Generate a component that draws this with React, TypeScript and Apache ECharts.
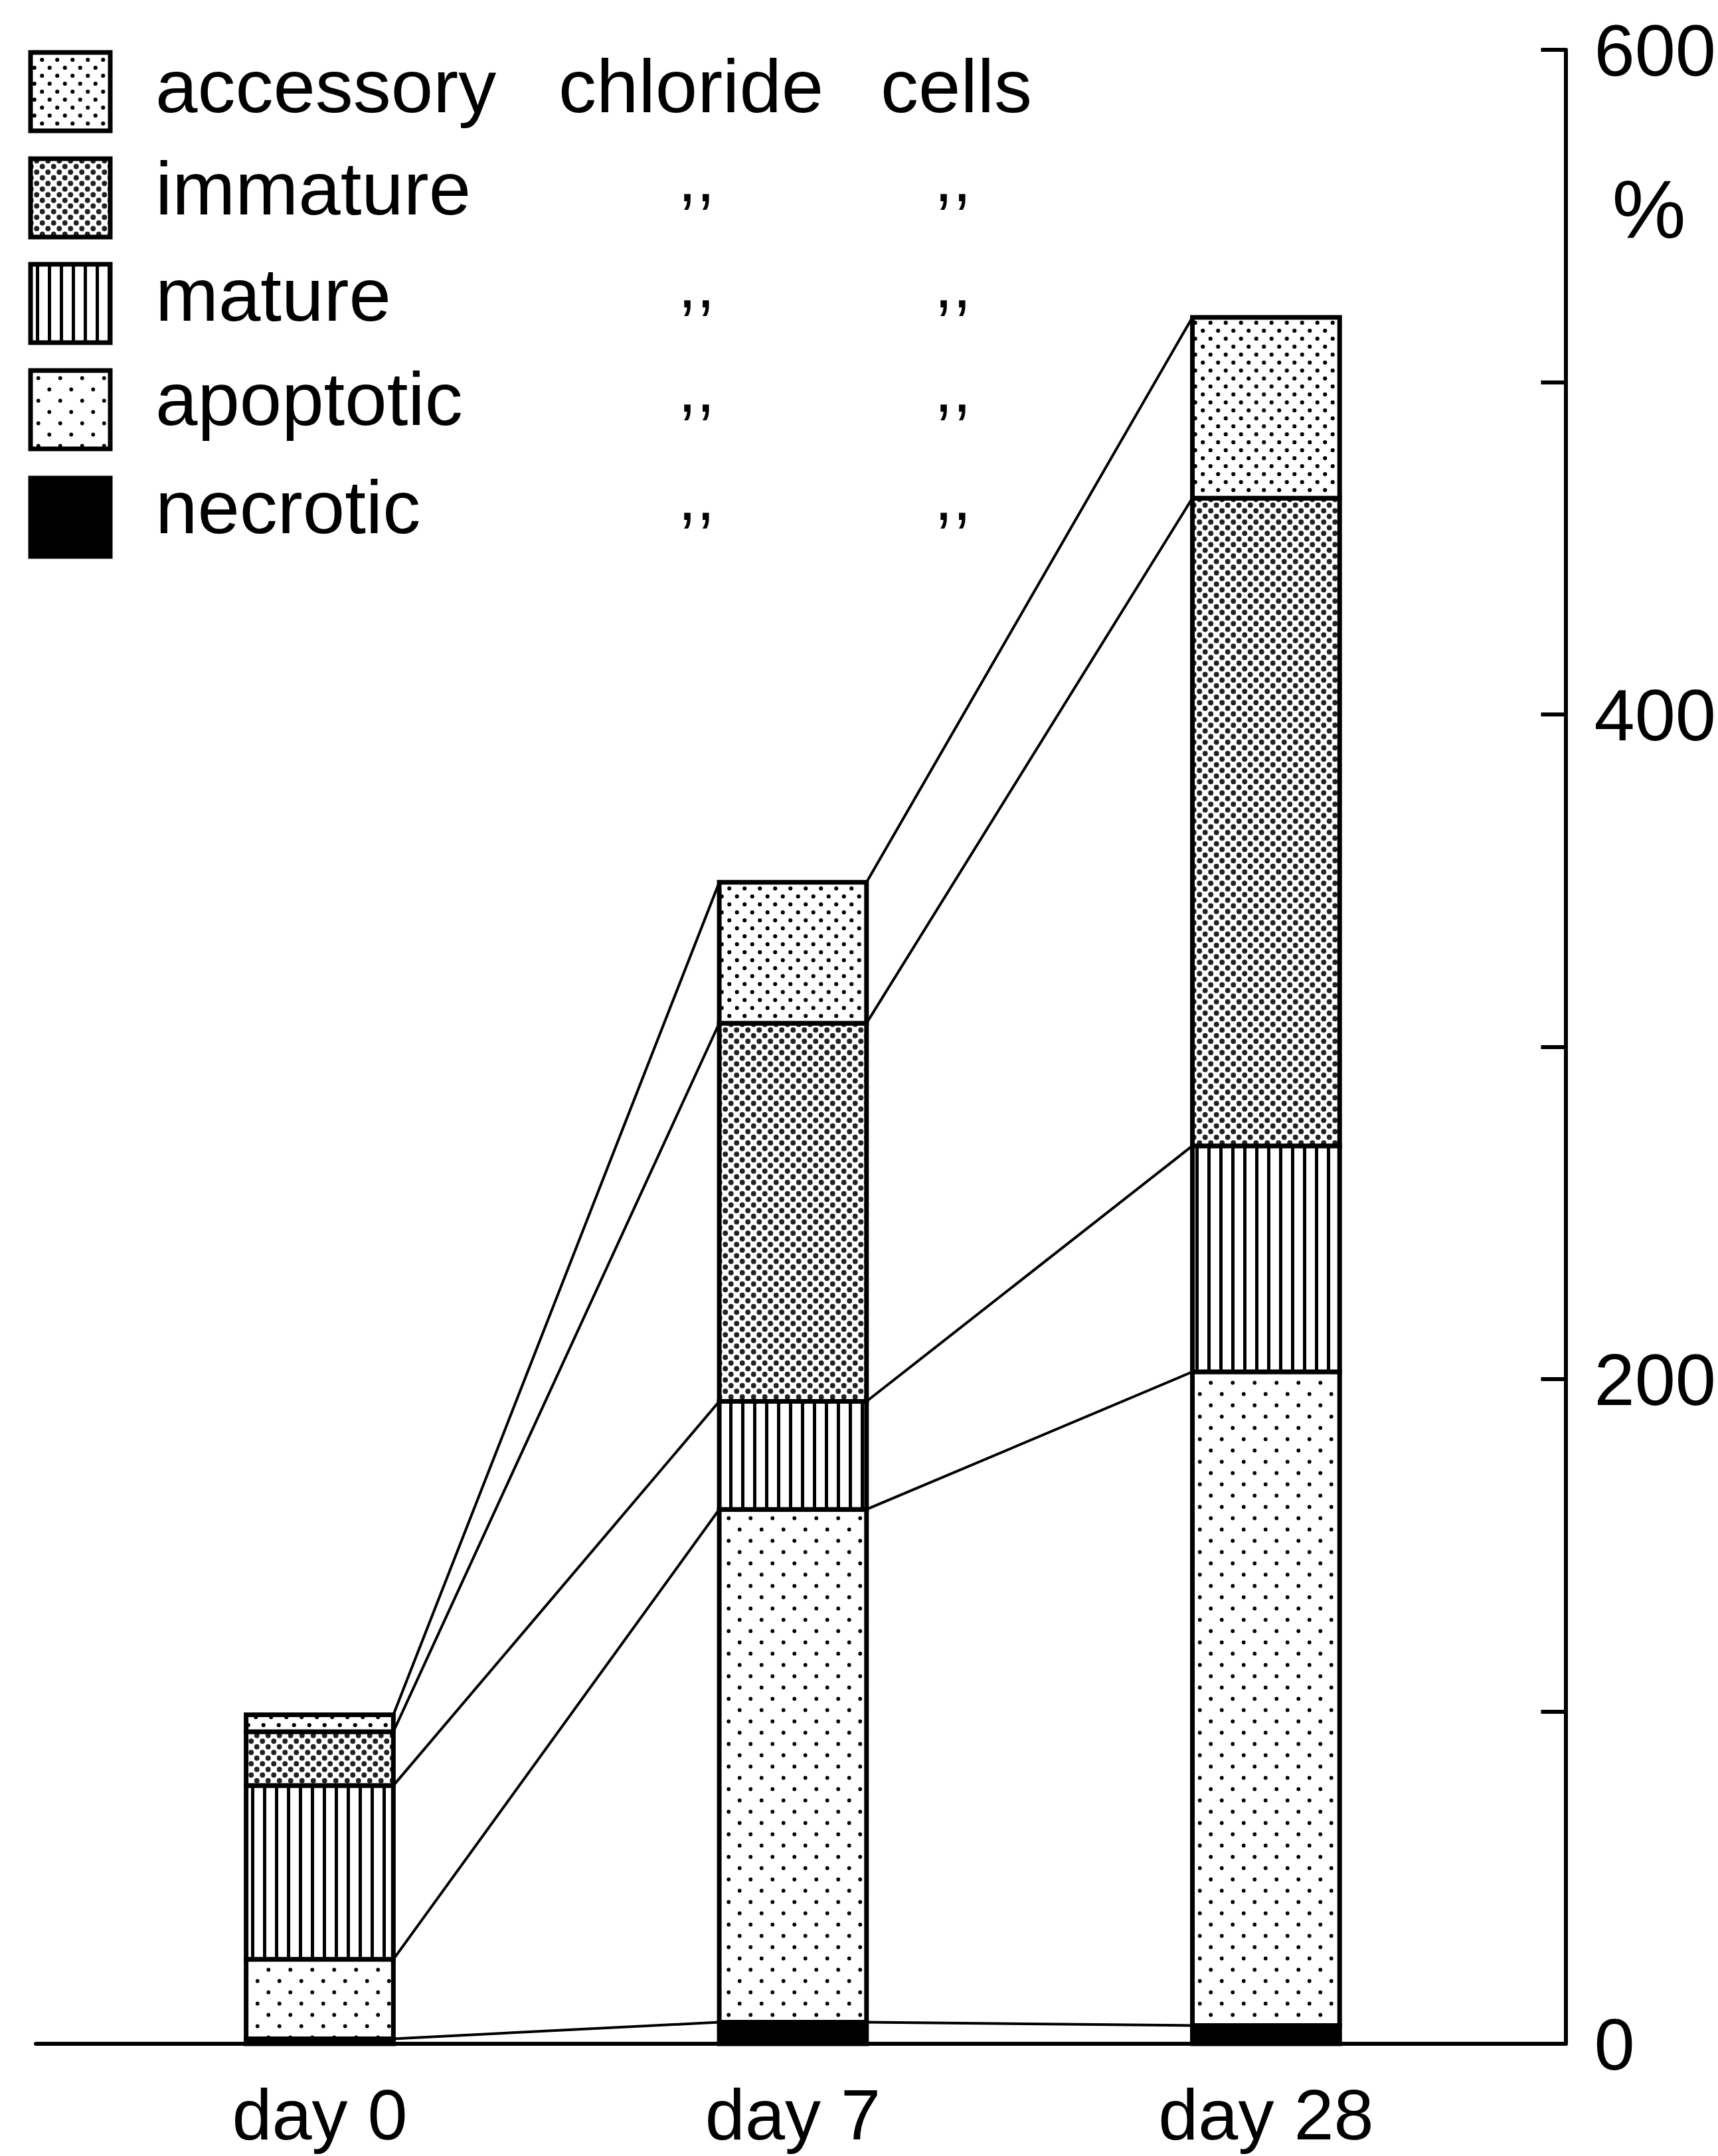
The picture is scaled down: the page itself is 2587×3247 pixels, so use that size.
import React, { useEffect, useRef } from 'react';
import * as echarts from 'echarts';

// ---------- data (percent, day 0 total = 100) ----------
const days = ['day 0', 'day 7', 'day 28'];
const necrotic = [1.5, 6.5, 5.5];
const apoptotic = [23.9, 154.3, 196.7];
const mature = [52.3, 32.5, 68.0];
const immature = [16.2, 113.8, 194.9];
const accessory = [5.1, 42.4, 54.4];
const yMax = 600;
const yStep = 100;
const yLabelEvery = 200;

const legendRows = [
  { key: 'accessory', words: ['accessory', 'chloride', 'cells'] },
  { key: 'immature', words: ['immature'] },
  { key: 'mature', words: ['mature'] },
  { key: 'apoptotic', words: ['apoptotic'] },
  { key: 'necrotic', words: ['necrotic'] },
];

const FONT = '"Liberation Sans", Arial, Helvetica, sans-serif';
const HW = 0.1556; // half bar width in x-axis units

function dotPattern(w: number, h: number, r: number, pts: number[][], color: string) {
  const c = document.createElement('canvas');
  c.width = w;
  c.height = h;
  const g = c.getContext('2d')!;
  g.fillStyle = '#fff';
  g.fillRect(0, 0, w, h);
  g.fillStyle = color;
  for (const [px, py] of pts) {
    for (const dx of [-w, 0, w]) {
      for (const dy of [-h, 0, h]) {
        g.beginPath();
        g.arc(px + dx, py + dy, r, 0, Math.PI * 2);
        g.fill();
      }
    }
  }
  return { image: c.toDataURL(), repeat: 'repeat', imageWidth: w, imageHeight: h };
}

function linePattern(w: number, h: number, lw: number) {
  const c = document.createElement('canvas');
  c.width = w;
  c.height = h;
  const g = c.getContext('2d')!;
  g.fillStyle = '#fff';
  g.fillRect(0, 0, w, h);
  g.fillStyle = '#000';
  g.fillRect(0, 0, lw, h);
  return { image: c.toDataURL(), repeat: 'repeat', imageWidth: w, imageHeight: h };
}

export default function App() {
  const ref = useRef<HTMLDivElement>(null);
  useEffect(() => {
    if (!ref.current) return;
    document.body.style.margin = '0';
    const chart = echarts.init(ref.current, null, { renderer: 'svg' });

    const fills: Record<string, any> = {
      necrotic: '#000',
      apoptotic: dotPattern(33, 34, 2.9, [[8.25, 8.5], [24.75, 25.5]], '#000'),
      mature: linePattern(18, 8, 5),
      immature: dotPattern(17, 17, 3.9, [[4.25, 4.25], [12.75, 12.75]], '#222'),
      accessory: dotPattern(23, 24, 3.1, [[5.75, 6], [17.25, 18]], '#000'),
    };

    const layers = [
      { key: 'necrotic', values: necrotic },
      { key: 'apoptotic', values: apoptotic },
      { key: 'mature', values: mature },
      { key: 'immature', values: immature },
      { key: 'accessory', values: accessory },
    ];

    const cum = days.map(() => 0);
    const series: any[] = [];
    layers.forEach((layer) => {
      const data = days.map((_, i) => {
        const lo = cum[i];
        const hi = lo + layer.values[i];
        cum[i] = hi;
        return [i, lo, hi];
      });
      const fill = fills[layer.key];
      series.push({
        type: 'custom',
        name: layer.key,
        z: 3,
        silent: true,
        encode: { x: 0, y: [1, 2] },
        data,
        renderItem: (params: any, api: any) => {
          const x = api.value(0);
          const lo = api.value(1);
          const hi = api.value(2);
          const p1 = api.coord([x - HW, hi]);
          const p2 = api.coord([x + HW, lo]);
          return {
            type: 'rect',
            shape: { x: p1[0], y: p1[1], width: p2[0] - p1[0], height: p2[1] - p1[1] },
            style: { fill, stroke: '#000', lineWidth: 7 },
          };
        },
      });
      const tops = data.map((d) => d[2]);
      const pts: number[][] = [];
      tops.forEach((t, i) => {
        if (i > 0) pts.push([i - HW, t]);
        if (i < tops.length - 1) pts.push([i + HW, t]);
      });
      series.push({
        type: 'line',
        z: 2,
        silent: true,
        symbol: 'none',
        data: pts,
        lineStyle: { color: '#000', width: 4 },
      });
    });

    // legend graphics
    const swY = [79, 239, 398, 558, 720];
    const baseY = [169, 323, 483, 640, 803];
    const wordX = [234, 841, 1326];
    const dittoX = [1021, 1407];
    const graphic: any[] = [];
    legendRows.forEach((row, r) => {
      graphic.push({
        type: 'rect',
        shape: { x: 46, y: swY[r], width: 120, height: 118 },
        style: { fill: fills[row.key], stroke: '#000', lineWidth: 7 },
        z: 10,
      });
      row.words.forEach((w, k) => {
        graphic.push({
          type: 'text',
          x: wordX[k],
          y: baseY[r] - 39.5,
          z: 10,
          style: {
            text: w, fill: '#000', fontSize: 114, fontFamily: FONT,
            align: 'left', verticalAlign: 'middle', textAlign: 'left', textVerticalAlign: 'middle',
          },
        });
      });
      if (r > 0) {
        dittoX.forEach((dx) => {
          graphic.push({
            type: 'text',
            x: dx,
            y: baseY[r] - 55,
            z: 10,
            style: {
              text: ',,', fill: '#000', fontSize: 100, fontFamily: FONT,
              align: 'left', verticalAlign: 'middle', textAlign: 'left', textVerticalAlign: 'middle',
            },
          });
        });
      }
    });
    graphic.push({
      type: 'text',
      x: 2483,
      y: 314,
      z: 10,
      style: {
        text: '%', fill: '#000', fontSize: 125, fontFamily: FONT,
        align: 'center', verticalAlign: 'middle', textAlign: 'center', textVerticalAlign: 'middle',
      },
    });

    chart.setOption({
      animation: false,
      backgroundColor: '#fff',
      grid: { left: 54, right: 227, top: 75, bottom: 169, containLabel: false },
      xAxis: {
        type: 'value',
        min: -0.6,
        max: 2.6331,
        interval: 0.2,
        axisLine: { show: true, onZero: false, lineStyle: { color: '#000', width: 6 } },
        axisTick: { show: false },
        splitLine: { show: false },
        axisLabel: {
          color: '#000',
          fontSize: 108,
          fontFamily: FONT,
          margin: 52,
          showMinLabel: false,
          showMaxLabel: false,
          hideOverlap: false,
          formatter: (v: number) => {
            const r = Math.round(v);
            if (Math.abs(v - r) < 1e-6 && r >= 0 && r < days.length) return days[r];
            return '';
          },
        },
      },
      yAxis: {
        type: 'value',
        position: 'right',
        min: 0,
        max: yMax,
        interval: yStep,
        axisLine: { show: true, onZero: false, lineStyle: { color: '#000', width: 6 } },
        axisTick: { show: true, inside: true, length: 37, lineStyle: { color: '#000', width: 6 } },
        splitLine: { show: false },
        axisLabel: {
          color: '#000',
          fontSize: 110,
          fontFamily: FONT,
          margin: 43,
          formatter: (v: number) => (v % yLabelEvery === 0 ? String(v) : ''),
        },
      },
      graphic,
      series,
    });
    return () => chart.dispose();
  }, []);
  return <div ref={ref} style={{ position: 'absolute', left: 0, top: 0, width: 2587, height: 3247 }} />;
}
